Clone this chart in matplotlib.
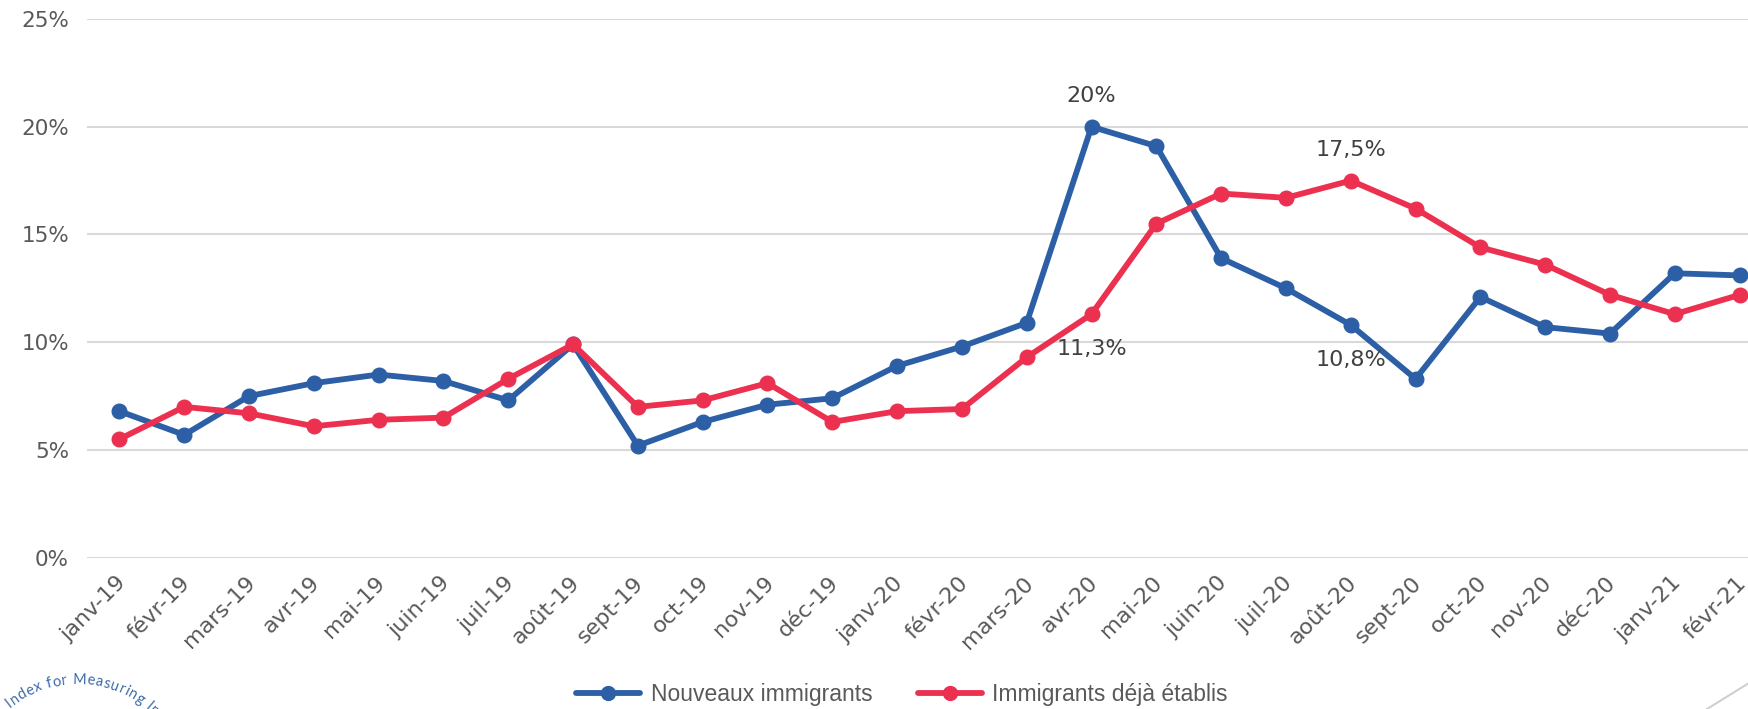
import numpy as np
import matplotlib
matplotlib.use("Agg")
import matplotlib.pyplot as plt
from matplotlib.lines import Line2D
from matplotlib.font_manager import FontProperties
from matplotlib.textpath import TextToPath
from matplotlib.transforms import ScaledTranslation

months = ["janv-19", "févr-19", "mars-19", "avr-19", "mai-19", "juin-19", "juil-19",
          "août-19", "sept-19", "oct-19", "nov-19", "déc-19", "janv-20", "févr-20",
          "mars-20", "avr-20", "mai-20", "juin-20", "juil-20", "août-20", "sept-20",
          "oct-20", "nov-20", "déc-20", "janv-21", "févr-21"]
nouveaux = [6.8, 5.7, 7.5, 8.1, 8.5, 8.2, 7.3, 9.9, 5.2, 6.3, 7.1, 7.4, 8.9, 9.8,
            10.9, 20.0, 19.1, 13.9, 12.5, 10.8, 8.3, 12.1, 10.7, 10.4, 13.2, 13.1]
etablis = [5.5, 7.0, 6.7, 6.1, 6.4, 6.5, 8.3, 9.9, 7.0, 7.3, 8.1, 6.3, 6.8, 6.9,
           9.3, 11.3, 15.5, 16.9, 16.7, 17.5, 16.2, 14.4, 13.6, 12.2, 11.3, 12.2]
yticks = [0, 5, 10, 15, 20, 25]
series_names = ["Nouveaux immigrants", "Immigrants déjà établis"]
# annotated points: (series, index, label, position)
annotations = [("n", 15, "20%", "above"), ("e", 19, "17,5%", "above"),
               ("e", 15, "11,3%", "below"), ("n", 19, "10,8%", "below")]
logo_text = "Index for Measuring Int"

BLUE = "#2C5FA5"
RED = "#EC3150"
GRID = "#D9D9D9"
TXT = "#595959"
FONT = "DejaVu Sans"

W, H = 1749, 709
fig = plt.figure(figsize=(W / 100, H / 100), dpi=100)
left = 87 / W
width = (1772 - 87) / W
bottom = (H - 557.7) / H
top = (H - 19) / H
ax = fig.add_axes([left, bottom, width, top - bottom])

x = np.arange(len(months))
ax.plot(x, nouveaux, color=BLUE, lw=4.2, marker="o", ms=10.5, solid_capstyle="round",
        solid_joinstyle="round", label=series_names[0], zorder=3, clip_on=False)
ax.plot(x, etablis, color=RED, lw=4.2, marker="o", ms=10.5, solid_capstyle="round",
        solid_joinstyle="round", label=series_names[1], zorder=3, clip_on=False)

ax.set_xlim(-0.5, len(months) - 0.5)
ax.set_ylim(0, 25)
ax.set_yticks(yticks)
ax.set_yticklabels([f"{t}%" for t in yticks], fontsize=15.5, color=TXT, family=FONT)
ax.set_xticks(x)
ax.set_xticklabels([])
ax.tick_params(axis="both", length=0)
ax.tick_params(axis="y", pad=13)
ax.grid(axis="y", color=GRID, lw=1.5)
ax.set_axisbelow(True)
for s in ax.spines.values():
    s.set_visible(False)

# rotated category labels
lab_tr = ax.get_xaxis_transform() + ScaledTranslation(-4 / 100, -15 / 100, fig.dpi_scale_trans)
for i, m in enumerate(months):
    ax.text(i, 0, m, transform=lab_tr, rotation=45, ha="right", va="top",
            rotation_mode="anchor", fontsize=16, color=TXT, family=FONT, clip_on=False)

data = {"n": nouveaux, "e": etablis}
for ser, i, lab, pos in annotations:
    dy = 22 if pos == "above" else -25
    ax.annotate(lab, (i, data[ser][i]), xytext=(0, dy), textcoords="offset points",
                ha="center", va="center", fontsize=16, color="#404040", family=FONT)

leg = fig.legend(loc="center", bbox_to_anchor=(902 / W, (H - 695) / H), ncol=2,
                 frameon=False, handlelength=2.8, columnspacing=2.0, handletextpad=0.45,
                 prop={"family": "Liberation Sans", "size": 16.5}, markerscale=0.95)
for t in leg.get_texts():
    t.set_color(TXT)

# partial logo arc text at bottom-left
fp = FontProperties(family="Lato", size=10.5)
ttp = TextToPath()
cx, cy, r = 77, H - 791, 107
ang = np.deg2rad(-39.0)
for ch in logo_text:
    w, h, d = ttp.get_text_width_height_descent(ch if ch != " " else "n", fp, ismath=False)
    wpx = w * 100 / 72 * (0.5 if ch == " " else 1.0) + 0.6
    da = wpx / r
    a = ang + da / 2
    px = cx + r * np.sin(a)
    py = cy + r * np.cos(a)
    fig.text(px / W, py / H, ch, fontproperties=fp, color="#3D6CA8",
             rotation=-np.rad2deg(a), ha="center", va="baseline", rotation_mode="anchor")
    ang += da

# decorative grey diagonal line bottom-right
fig.add_artist(Line2D([1707 / W, 1.0], [0.0, (H - 683) / H], color="#D0D0D0", lw=1.5,
                      transform=fig.transFigure))

fig.savefig("out.png", dpi=100)
